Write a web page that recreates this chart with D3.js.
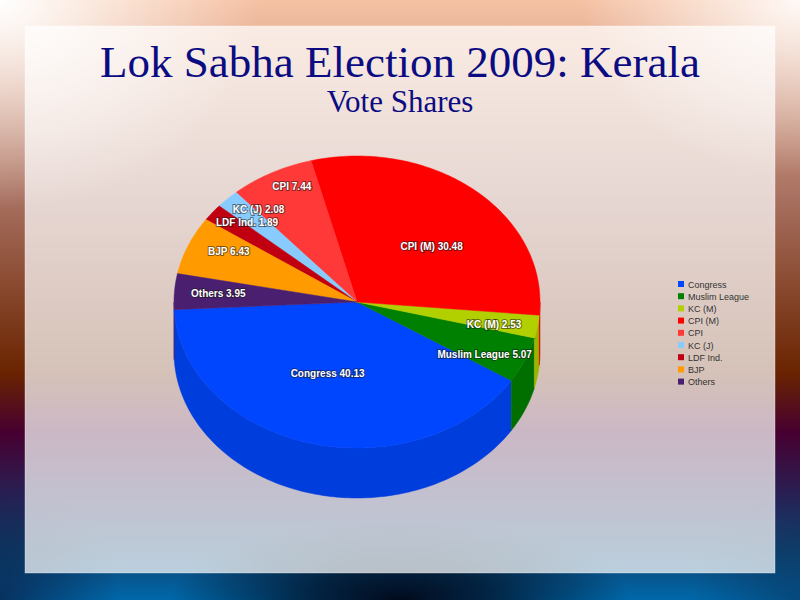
<!DOCTYPE html>
<html>
<head>
<meta charset="utf-8">
<script src="https://cdn.jsdelivr.net/npm/d3@7"></script>
<style>
  html, body { margin: 0; padding: 0; overflow: hidden; }
</style>
</head>
<body>
<div id="container"></div>
<script>
/* DATA */
const parties = ["Congress", "Muslim League", "KC (M)", "CPI (M)", "CPI", "KC (J)", "LDF Ind.", "BJP", "Others"];
const shares = [40.13, 5.07, 2.53, 30.48, 7.44, 2.08, 1.89, 6.43, 3.95];
const colors = ["#0046ff", "#008000", "#b2d000", "#ff0000", "#ff3838", "#88ccff", "#c00010", "#ff9a00", "#4a1f70"];
const titleText = "Lok Sabha Election 2009: Kerala";
const subtitleText = "Vote Shares";

/* CONSTANTS AND GLOBALS */
const width = 800;
const height = 600;
const cx = 357, cy = 302;   // pie centre
const rx = 183, ry = 146;   // tilted ellipse radii
const depth = 50;           // thickness of the pie
const startDeg = 183;       // where Congress starts (math angle, counter-clockwise)

const svg = d3.select("#container")
  .append("svg")
  .attr("width", width)
  .attr("height", height);

const defs = svg.append("defs");

/* BACKGROUND */
const bg = defs.append("linearGradient").attr("id", "bg").attr("x1", 0).attr("y1", 0).attr("x2", 0).attr("y2", 1);
[[0, "#f6c2a4"], [0.33, "#a87060"], [0.62, "#6a2400"], [0.72, "#470030"], [0.82, "#2a1e52"], [0.92, "#0e4472"], [1, "#0068aa"]]
  .forEach(s => bg.append("stop").attr("offset", s[0]).attr("stop-color", s[1]));

function radial(id, cxp, cyp, r, sy, color, op, mid) {
  const g = defs.append("radialGradient").attr("id", id)
    .attr("gradientUnits", "userSpaceOnUse")
    .attr("cx", cxp).attr("cy", cyp).attr("r", r)
    .attr("gradientTransform", `translate(${cxp},${cyp}) scale(1,${sy}) translate(${-cxp},${-cyp})`);
  g.append("stop").attr("offset", 0).attr("stop-color", color).attr("stop-opacity", op);
  if (mid) g.append("stop").attr("offset", mid).attr("stop-color", color).attr("stop-opacity", op * 0.7);
  g.append("stop").attr("offset", 1).attr("stop-color", color).attr("stop-opacity", 0);
  svg.append("rect").attr("width", width).attr("height", height).attr("fill", `url(#${id})`);
}

svg.append("rect").attr("width", width).attr("height", height).attr("fill", "url(#bg)");
radial("darkB", 400, 600, 230, 0.35, "#020a1c", 1, 0.4);
radial("darkBL", 0, 600, 120, 1, "#0a1a40", 0.7);
radial("darkBR", 800, 600, 110, 1, "#0a2a50", 0.5);
radial("glowL", 0, 0, 260, 0.8, "#ffffff", 1);
radial("glowR", 800, 0, 220, 0.8, "#ffffff", 0.9);

// translucent slide panel
svg.append("rect")
  .attr("x", 25).attr("y", 26).attr("width", 750).attr("height", 547)
  .attr("fill", "#ffffff").attr("fill-opacity", 0.72)
  .attr("stroke", "#ffffff").attr("stroke-opacity", 0.35);

/* TITLES */
svg.append("text")
  .attr("x", 400).attr("y", 77)
  .attr("text-anchor", "middle")
  .style("font-family", "'Liberation Serif', 'Times New Roman', serif")
  .style("font-size", "45px")
  .attr("fill", "#0c0c82")
  .text(titleText);

svg.append("text")
  .attr("x", 400).attr("y", 112)
  .attr("text-anchor", "middle")
  .style("font-family", "'Liberation Serif', 'Times New Roman', serif")
  .style("font-size", "31px")
  .attr("fill", "#0c0c82")
  .text(subtitleText);

/* SCALES */
// unit circle -> tilted ellipse on screen
const xScale = d3.scaleLinear().domain([-1, 1]).range([cx - rx, cx + rx]);
const yScale = d3.scaleLinear().domain([-1, 1]).range([cy + ry, cy - ry]);
const colorScale = d3.scaleOrdinal().domain(parties).range(colors);

const pie = d3.pie().sort(null).value(d => d.value);
const slices = pie(parties.map((p, i) => ({ party: p, value: shares[i] })));

const a0 = startDeg * Math.PI / 180;
const ang = a => a0 + a; // pie angle -> math angle
const px = a => xScale(Math.cos(a));
const py = a => yScale(Math.sin(a));

function arcPoints(lo, hi) {
  const n = Math.max(2, Math.ceil((hi - lo) / 0.02));
  return d3.range(n + 1).map(i => lo + (hi - lo) * i / n);
}

/* SIDE WALLS (front half only) */
const walls = [];
slices.forEach(s => {
  const lo = ang(s.startAngle), hi = ang(s.endAngle);
  [[Math.PI, 2 * Math.PI], [3 * Math.PI, 4 * Math.PI]].forEach(([f0, f1]) => {
    const l = Math.max(lo, f0), h = Math.min(hi, f1);
    if (h > l) walls.push({ party: s.data.party, lo: l, hi: h });
  });
});

const line = d3.line();
svg.append("g").selectAll("path")
  .data(walls)
  .join("path")
  .attr("d", w => {
    const pts = arcPoints(w.lo, w.hi);
    const top = pts.map(a => [px(a), py(a)]);
    const bot = pts.slice().reverse().map(a => [px(a), py(a) + depth]);
    return line(top.concat(bot)) + "Z";
  })
  .attr("fill", w => d3.color(colorScale(w.party)).darker(0.4))
  .attr("stroke", w => d3.color(colorScale(w.party)).darker(0.4))
  .attr("stroke-width", 0.5);

/* TOP FACES */
svg.append("g").selectAll("path")
  .data(slices)
  .join("path")
  .attr("d", s => {
    const pts = arcPoints(ang(s.startAngle), ang(s.endAngle)).map(a => [px(a), py(a)]);
    return line([[cx, cy]].concat(pts)) + "Z";
  })
  .attr("fill", s => colorScale(s.data.party))
  .attr("stroke", s => colorScale(s.data.party))
  .attr("stroke-width", 0.5);

/* SLICE LABELS */
svg.append("g").selectAll("text")
  .data(slices)
  .join("text")
  .attr("x", s => {
    const m = ang((s.startAngle + s.endAngle) / 2);
    const f = s.data.value > 20 ? 0.63 : 0.76;
    return xScale(Math.cos(m) * f);
  })
  .attr("y", s => {
    const m = ang((s.startAngle + s.endAngle) / 2);
    const f = s.data.value > 20 ? 0.5 : 0.9;
    return yScale(Math.sin(m) * f) + 4;
  })
  .attr("text-anchor", "middle")
  .style("font-family", "'Liberation Sans', Arial, sans-serif")
  .style("font-size", "10px")
  .style("font-weight", "bold")
  .attr("fill", "#ffffff")
  .attr("stroke", "#1a1a1a")
  .attr("stroke-opacity", 0.55)
  .attr("stroke-width", 2)
  .attr("paint-order", "stroke")
  .text(s => `${s.data.party} ${d3.format(".2f")(s.data.value)}`);

/* LEGEND */
const legend = svg.append("g").attr("transform", "translate(678, 281)");
const row = legend.selectAll("g")
  .data(parties)
  .join("g")
  .attr("transform", (d, i) => `translate(0, ${i * 12.2})`);

row.append("rect")
  .attr("width", 6).attr("height", 6)
  .attr("fill", d => colorScale(d));

row.append("text")
  .attr("x", 10).attr("y", 6.5)
  .style("font-family", "'Liberation Sans', Arial, sans-serif")
  .style("font-size", "9px")
  .attr("fill", "#333333")
  .text(d => d);
</script>
</body>
</html>
